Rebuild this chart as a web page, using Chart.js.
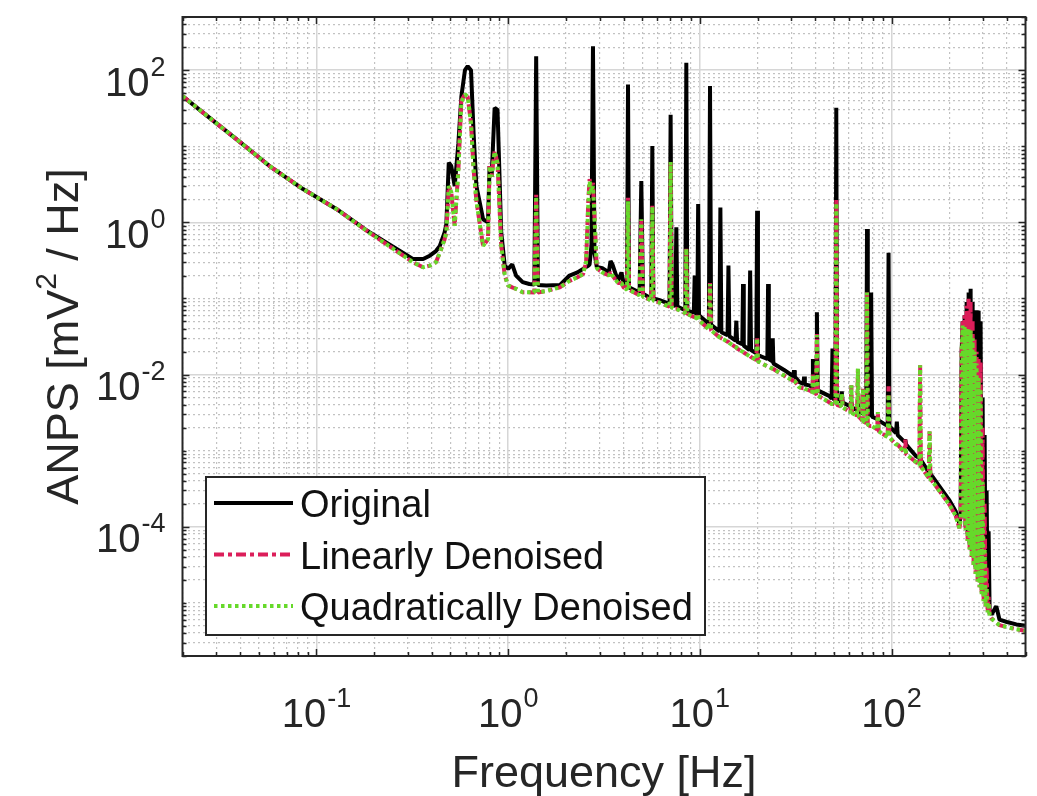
<!DOCTYPE html>
<html>
<head>
<meta charset="utf-8">
<title>ANPS spectrum</title>
<script src="https://cdn.jsdelivr.net/npm/chart.js@4.4.1/dist/chart.umd.min.js"></script>
<style>
  html, body { margin: 0; padding: 0; background: #fff; }
  #wrap { position: relative; width: 1037px; height: 796px; }
</style>
</head>
<body>
<div id="wrap"><canvas id="psd"></canvas></div>
<script>
// ═══════════════════════════════════════════════════
// ANPS spectrum: original vs. denoised
// ═══════════════════════════════════════════════════

// ─── Data ─────────────────────────────────────────
const FREQ = [
  0.02, 0.0256, 0.0382, 0.0569, 0.0851, 0.127, 0.189, 0.282, 0.318, 0.36,
  0.39, 0.42, 0.44, 0.466, 0.476, 0.49, 0.505, 0.526, 0.55, 0.57,
  0.595, 0.615, 0.64, 0.66, 0.683, 0.74, 0.785, 0.80, 0.82, 0.85,
  0.88, 0.92, 0.96, 1.0, 1.05, 1.10, 1.19, 1.29, 1.37, 1.40,
  1.43, 1.58, 1.86, 2.09, 2.3, 2.46, 2.55, 2.62, 2.66, 2.72,
  2.77, 2.82, 2.9, 3.1, 3.35, 3.42, 3.5, 3.74, 3.9, 4.0,
  4.17, 4.22, 4.27, 4.85, 4.95, 5.05, 5.58, 5.65, 5.72, 6.17,
  6.95, 7.04, 7.13, 7.45, 7.54, 7.63, 8.4, 8.5, 8.6, 9.3,
  9.4, 9.5, 9.7, 9.8, 9.9, 11.15, 11.3, 11.45, 12.65, 12.8,
  12.95, 13.95, 14.1, 14.25, 15.35, 15.5, 15.65, 16.65, 16.8, 16.95,
  18.1, 18.3, 18.5, 19.7, 19.9, 20.1, 22.5, 22.7, 22.9, 23.8,
  24.0, 24.2, 27.5, 30.7, 31.0, 31.3, 33.0, 34.7, 35.0,
  35.3, 37.3, 38.6, 38.9, 39.2, 40.4, 40.8, 41.2, 47.5,
  48.7, 49.2, 49.7, 51.0, 51.5, 52.0, 54.4, 55.0, 55.6,
  61.1, 61.7, 62.3, 66.1, 66.8, 67.5, 70.3, 71.0, 71.7,
  73.8, 74.5, 75.2, 77.5, 78.3, 79.1, 84.1, 84.9, 85.7,
  95.5, 96.5, 97.5, 105.5, 106.6, 107.7, 116.8, 118, 119.2,
  134, 139.6, 141, 142.4, 156.4, 158, 159.6, 164, 201,
  216, 226, 229.4, 232.2, 235, 237.8, 240.6, 243.5, 246.5,
  249.5, 252.5, 255.5, 258.6, 261.7, 264.9, 268.1, 271.3, 274.6,
  277.9, 281.3, 284.7, 288.1, 291.6, 295.1, 298.7, 302.3, 306,
  309.7, 313.4, 317.2, 321, 324.9, 332.8, 352, 366, 400,
  448, 500
];

const ORIGINAL = [
  45.6, 27.7, 12.4, 5.5, 2.74, 1.5, 0.74, 0.40, 0.33, 0.33,
  0.365, 0.42, 0.49, 0.74, 0.95, 6.1, 5.5, 3.0, 11, 45,
  100, 113, 100, 15, 3.0, 1.1, 1.0, 5.5, 4, 32,
  30, 0.74, 0.27, 0.245, 0.28, 0.2, 0.164, 0.155, 0.152, 152,
  0.15, 0.148, 0.15, 0.20, 0.22, 0.245, 0.26, 0.27, 0.28, 0.5,
  206, 0.4, 0.26, 0.25, 0.22, 0.31, 0.28, 0.17, 0.22, 0.16,
  0.14, 65, 0.14, 0.12, 3.5, 0.115, 0.10, 10.1, 0.10, 0.095,
  0.085, 26, 0.083, 0.08, 0.86, 0.078, 0.07, 125, 0.069, 0.065,
  0.2, 0.064, 0.062, 1.74, 0.06, 0.046, 62, 0.045, 0.037, 1.57,
  0.036, 0.033, 0.27, 0.032, 0.028, 0.051, 0.027, 0.025, 0.155, 0.024,
  0.021, 0.232, 0.021, 0.019, 1.42, 0.018, 0.016, 0.155, 0.016, 0.015,
  0.03, 0.014, 0.0115, 0.0095, 0.0114, 0.0093, 0.008, 0.0075, 0.0094,
  0.0074, 0.0072, 0.0068, 0.016, 0.0067, 0.0063, 0.066, 0.0062, 0.0052,
  0.0048, 0.022, 0.0047, 0.0047, 32, 0.0046, 0.0044, 0.006, 0.0043,
  0.0038, 0.0045, 0.0037, 0.0034, 0.005, 0.0033, 0.0031, 0.0031, 0.003,
  0.003, 0.82, 0.003, 0.0029, 0.12, 0.0028, 0.0026, 0.0027, 0.0025,
  0.0021, 0.40, 0.0021, 0.0017, 0.0024, 0.0016, 0.0013, 0.0014, 0.0012,
  0.00085, 0.0008, 0.0008, 0.00075, 0.00052, 0.0005, 0.0005, 0.00045, 0.00022,
  0.00016, 0.00011, 1.4e-4, 0.02, 0.05, 1.5e-4, 0.06, 1e-4, 0.09,
  8e-5, 0.12, 6e-5, 0.134, 5e-5, 0.09, 4e-5, 0.07, 3e-5,
  0.07, 2.5e-5, 0.069, 2e-5, 0.05, 1.6e-5, 0.005, 1.3e-5, 1.6e-3,
  1.1e-5, 3e-4, 9e-6, 8.7e-5, 8e-6, 7e-6, 9e-6, 6e-6, 5.6e-6,
  5.2e-6, 5e-6
];

const LINEAR = [
  45.6, 27.7, 12.4, 5.5, 2.74, 1.5, 0.73, 0.37, 0.30, 0.257,
  0.27, 0.30, 0.40, 0.6, 0.74, 3.0, 2.5, 0.9, 5, 40,
  48, 45, 20, 5, 1.9, 0.49, 0.6, 5.5, 4, 8.7,
  6, 0.5, 0.2, 0.148, 0.14, 0.134, 0.121, 0.121, 0.12, 2.3,
  0.12, 0.125, 0.14, 0.17, 0.19, 0.21, 0.3, 2.0, 3.7, 2.5,
  3.3, 1.2, 0.25, 0.22, 0.2, 0.22, 0.2, 0.16, 0.16, 0.14,
  0.13, 2.1, 0.13, 0.11, 1.1, 0.105, 0.095, 1.65, 0.094, 0.088,
  0.078, 6.2, 0.076, 0.073, 0.073, 0.072, 0.064, 0.45, 0.063, 0.057,
  0.057, 0.056, 0.054, 0.06, 0.052, 0.039, 0.16, 0.038, 0.031, 0.031,
  0.030, 0.027, 0.027, 0.026, 0.023, 0.023, 0.022, 0.020, 0.020, 0.0195,
  0.0175, 0.0175, 0.017, 0.0155, 0.03, 0.015, 0.0128, 0.0128, 0.0127, 0.012,
  0.012, 0.0118, 0.0097, 0.0083, 0.0083, 0.0082, 0.0068, 0.0066, 0.0066,
  0.0065, 0.0062, 0.0059, 0.010, 0.0058, 0.0054, 0.034, 0.0053, 0.0043,
  0.0041, 0.0041, 0.0041, 0.0040, 2.0, 0.0040, 0.0038, 0.0056, 0.0037,
  0.0032, 0.0072, 0.0031, 0.0029, 0.012, 0.0028, 0.0025, 0.0065, 0.0024,
  0.0023, 0.12, 0.0022, 0.0021, 0.0021, 0.0021, 0.0019, 0.0032, 0.0018,
  0.0015, 0.007, 0.0015, 0.0012, 0.0012, 0.0012, 0.00095, 0.0014, 0.0009,
  0.00071, 0.00064, 0.0132, 0.00062, 0.00044, 0.0018, 0.00042, 0.00039, 0.000193,
  0.00014, 9.6e-5, 1.2e-4, 0.02, 0.05, 1.3e-4, 0.06, 9e-5, 0.08,
  6.5e-5, 0.099, 5e-5, 0.09, 4e-5, 0.05, 3e-5, 0.03, 2.4e-5,
  0.02, 1.9e-5, 0.016, 1.6e-5, 0.0148, 1.3e-5, 0.002, 1.05e-5, 2e-4,
  9e-6, 3e-5, 7.5e-6, 1.2e-5, 6.8e-6, 6.2e-6, 5.5e-6, 5.1e-6, 4.8e-6,
  4.5e-6, 4.3e-6
];

const QUADRATIC = [
  45.6, 27.7, 12.4, 5.5, 2.74, 1.5, 0.73, 0.37, 0.30, 0.257,
  0.27, 0.30, 0.40, 0.6, 0.74, 3.0, 2.5, 0.9, 5, 38,
  48, 45, 20, 5, 1.9, 0.49, 0.6, 5.5, 4, 8.5,
  6, 0.5, 0.2, 0.148, 0.14, 0.134, 0.121, 0.121, 0.12, 2.2,
  0.12, 0.125, 0.14, 0.17, 0.19, 0.21, 0.3, 1.8, 3.5, 2.5,
  3.0, 1.2, 0.25, 0.22, 0.2, 0.22, 0.2, 0.16, 0.16, 0.14,
  0.13, 1.9, 0.13, 0.11, 1.1, 0.105, 0.095, 1.6, 0.094, 0.088,
  0.078, 6.2, 0.076, 0.073, 0.073, 0.072, 0.064, 0.45, 0.063, 0.057,
  0.057, 0.056, 0.054, 0.06, 0.052, 0.039, 0.155, 0.038, 0.031, 0.031,
  0.030, 0.027, 0.027, 0.026, 0.023, 0.023, 0.022, 0.020, 0.020, 0.0195,
  0.0175, 0.0175, 0.017, 0.0155, 0.03, 0.015, 0.0128, 0.0128, 0.0127, 0.012,
  0.012, 0.0118, 0.0097, 0.0083, 0.0083, 0.0082, 0.0068, 0.0066, 0.0066,
  0.0065, 0.0062, 0.0059, 0.010, 0.0058, 0.0054, 0.033, 0.0053, 0.0043,
  0.0041, 0.0041, 0.0041, 0.0040, 1.8, 0.0040, 0.0038, 0.0056, 0.0037,
  0.0032, 0.0072, 0.0031, 0.0029, 0.012, 0.0028, 0.0025, 0.0065, 0.0024,
  0.0023, 0.12, 0.0022, 0.0021, 0.0021, 0.0021, 0.0019, 0.0032, 0.0018,
  0.0015, 0.0055, 0.0015, 0.0012, 0.0012, 0.0012, 0.00095, 0.0011, 0.0009,
  0.00071, 0.00064, 0.0132, 0.00062, 0.00044, 0.0018, 0.00042, 0.00039, 0.000193,
  0.00014, 9.6e-5, 1.2e-4, 0.02, 0.044, 1.3e-4, 0.042, 9e-5, 0.040,
  6.5e-5, 0.040, 5e-5, 0.038, 4e-5, 0.030, 3e-5, 0.020, 2.4e-5,
  0.014, 1.9e-5, 0.009, 1.6e-5, 0.0065, 1.3e-5, 3.9e-4, 1.05e-5, 5.2e-5,
  9e-6, 1.6e-5, 7.5e-6, 1e-5, 6.8e-6, 6.2e-6, 5.5e-6, 5.1e-6, 4.8e-6,
  4.5e-6, 4.3e-6
];

// ─── Axes / ticks ─────────────────────────────────
const X_RANGE = [0.02, 500];
const Y_RANGE = [2e-6, 500];
const X_TICKS = [0.1, 1, 10, 100];
const X_TICK_EXP = ['-1', '0', '1', '2'];
const Y_TICKS = [1e-4, 1e-2, 1, 100];
const Y_TICK_EXP = ['-4', '-2', '0', '2'];

const SERIES_NAMES = ['Original', 'Linearly Denoised', 'Quadratically Denoised'];

// ─── Styles ───────────────────────────────────────
const FONT = '"Liberation Sans", Arial, Helvetica, sans-serif';
const INK = '#262626';
const GRID_MAJOR = { color: '#d6d6d6', width: 1.5, dash: [] };
const GRID_MINOR = { color: '#c2c2c2', width: 1.2, dash: [2, 3] };
const LEGEND = { left: 206, top: 477, right: 705, bottom: 635, firstRow: 26, rowH: 51.5,
                 lineFrom: 8, lineTo: 87, textAt: 94, font: 38 };

function minorTicks(range, majors) {
  const out = [];
  const e0 = Math.floor(Math.log10(range[0])), e1 = Math.ceil(Math.log10(range[1]));
  for (let e = e0; e <= e1; e++) {
    for (let m = 1; m < 10; m++) {
      const v = +(m * Math.pow(10, e)).toPrecision(6);
      if (v >= range[0] * 0.999 && v <= range[1] * 1.001 && !majors.includes(v)) out.push(v);
    }
  }
  return out;
}
const X_MINOR = minorTicks(X_RANGE, X_TICKS);
const Y_MINOR = minorTicks(Y_RANGE, Y_TICKS);

function logAxis(axis, range, values, grid) {
  return {
    type: 'logarithmic', axis, position: axis === 'x' ? 'bottom' : 'left',
    min: range[0], max: range[1],
    afterBuildTicks: s => { s.ticks = values.map(v => ({ value: v })); },
    ticks: { display: false },
    border: { display: false, dash: grid.dash },
    grid: { color: grid.color, lineWidth: grid.width, drawTicks: false, borderDash: grid.dash }
  };
}

function series(vals) {
  return FREQ.map((f, i) => ({ x: f, y: vals[i] }));
}

// ─── Decorations: frame, ticks, labels, legend ────
function drawPow(ctx, exp, x, y, anchor) {
  ctx.font = `40px ${FONT}`;
  const w1 = ctx.measureText('10').width;
  ctx.font = `27px ${FONT}`;
  const w2 = ctx.measureText(exp).width;
  const left = anchor === 'right' ? x - w1 - w2 - 1 : x - (w1 + w2 + 1) / 2;
  ctx.font = `40px ${FONT}`;
  ctx.fillText('10', left, y);
  ctx.font = `27px ${FONT}`;
  ctx.fillText(exp, left + w1 + 1, y - 20);
}

const decor = {
  id: 'decor',
  afterDraw(chart) {
    const { ctx, chartArea: a, scales } = chart;
    const xs = scales.x, ys = scales.y;
    ctx.save();

    // inward tick marks on all four sides
    ctx.strokeStyle = INK;
    ctx.lineWidth = 1.5;
    ctx.beginPath();
    const xt = (vals, len) => vals.forEach(v => {
      const p = Math.round(xs.getPixelForValue(v)) + 0.5;
      ctx.moveTo(p, a.bottom); ctx.lineTo(p, a.bottom - len);
      ctx.moveTo(p, a.top); ctx.lineTo(p, a.top + len);
    });
    const yt = (vals, len) => vals.forEach(v => {
      const p = Math.round(ys.getPixelForValue(v)) + 0.5;
      ctx.moveTo(a.left, p); ctx.lineTo(a.left + len, p);
      ctx.moveTo(a.right, p); ctx.lineTo(a.right - len, p);
    });
    xt(X_TICKS, 7); xt(X_MINOR, 4);
    yt(Y_TICKS, 7); yt(Y_MINOR, 4);
    ctx.stroke();

    // axes box
    ctx.lineWidth = 2;
    ctx.strokeRect(a.left, a.top, a.right - a.left, a.bottom - a.top);

    // tick labels
    ctx.fillStyle = INK;
    ctx.textAlign = 'left';
    ctx.textBaseline = 'alphabetic';
    X_TICKS.forEach((v, i) => drawPow(ctx, X_TICK_EXP[i], xs.getPixelForValue(v), a.bottom + 71, 'center'));
    Y_TICKS.forEach((v, i) => drawPow(ctx, Y_TICK_EXP[i], a.left - 17, ys.getPixelForValue(v) + 25.5, 'right'));

    // axis titles
    ctx.font = `45px ${FONT}`;
    ctx.textAlign = 'center';
    ctx.fillText('Frequency [Hz]', (a.left + a.right) / 2, 787);

    ctx.save();
    ctx.translate(78, (a.top + a.bottom) / 2);
    ctx.rotate(-Math.PI / 2);
    ctx.textAlign = 'left';
    const p1 = 'ANPS [mV', p2 = '2', p3 = ' / Hz]';
    ctx.font = `45px ${FONT}`;
    const w1 = ctx.measureText(p1).width, w3 = ctx.measureText(p3).width;
    ctx.font = `30px ${FONT}`;
    const w2 = ctx.measureText(p2).width;
    let x0 = -(w1 + w2 + w3) / 2;
    ctx.font = `45px ${FONT}`;
    ctx.fillText(p1, x0, 0);
    ctx.font = `30px ${FONT}`;
    ctx.fillText(p2, x0 + w1, -22);
    ctx.font = `45px ${FONT}`;
    ctx.fillText(p3, x0 + w1 + w2, 0);
    ctx.restore();

    // legend
    const L = LEGEND;
    ctx.fillStyle = '#ffffff';
    ctx.fillRect(L.left, L.top, L.right - L.left, L.bottom - L.top);
    ctx.strokeStyle = INK;
    ctx.lineWidth = 2;
    ctx.strokeRect(L.left, L.top, L.right - L.left, L.bottom - L.top);
    chart.data.datasets.forEach((ds, i) => {
      const y = L.top + L.firstRow + i * L.rowH;
      ctx.save();
      ctx.strokeStyle = ds.borderColor;
      ctx.lineWidth = ds.borderWidth;
      ctx.setLineDash(ds.borderDash || []);
      ctx.beginPath();
      ctx.moveTo(L.left + L.lineFrom, y);
      ctx.lineTo(L.left + L.lineTo, y);
      ctx.stroke();
      ctx.restore();
      ctx.fillStyle = '#111111';
      ctx.font = `${L.font}px ${FONT}`;
      ctx.textAlign = 'left';
      ctx.fillText(ds.label, L.left + L.textAt, y + 14);
    });
    ctx.restore();
  }
};

// ─── Chart ────────────────────────────────────────
new Chart(document.getElementById('psd'), {
  type: 'scatter',
  data: {
    datasets: [
      { label: SERIES_NAMES[0], data: series(ORIGINAL), borderColor: '#000000', borderWidth: 4,
        borderDash: [], order: 3 },
      { label: SERIES_NAMES[1], data: series(LINEAR), borderColor: '#dc1e5a', borderWidth: 4,
        borderDash: [10, 4, 4, 4], order: 2 },
      { label: SERIES_NAMES[2], data: series(QUADRATIC), borderColor: '#66d92a', borderWidth: 4,
        borderDash: [3.5, 3.5], order: 1 }
    ].map(ds => ({ ...ds, showLine: true, pointRadius: 0, pointHoverRadius: 0, tension: 0,
                   borderJoinStyle: 'bevel', clip: 0, parsing: false }))
  },
  options: {
    responsive: true, maintainAspectRatio: false, animation: false, devicePixelRatio: 1,
    layout: { padding: { left: 182.5, right: 11.5, top: 17, bottom: 140 } },
    plugins: { legend: { display: false }, tooltip: { enabled: false } },
    events: [],
    scales: {
      xMinor: logAxis('x', X_RANGE, X_MINOR, GRID_MINOR),
      yMinor: logAxis('y', Y_RANGE, Y_MINOR, GRID_MINOR),
      x: logAxis('x', X_RANGE, X_TICKS, GRID_MAJOR),
      y: logAxis('y', Y_RANGE, Y_TICKS, GRID_MAJOR)
    }
  },
  plugins: [decor]
});
</script>
</body>
</html>
